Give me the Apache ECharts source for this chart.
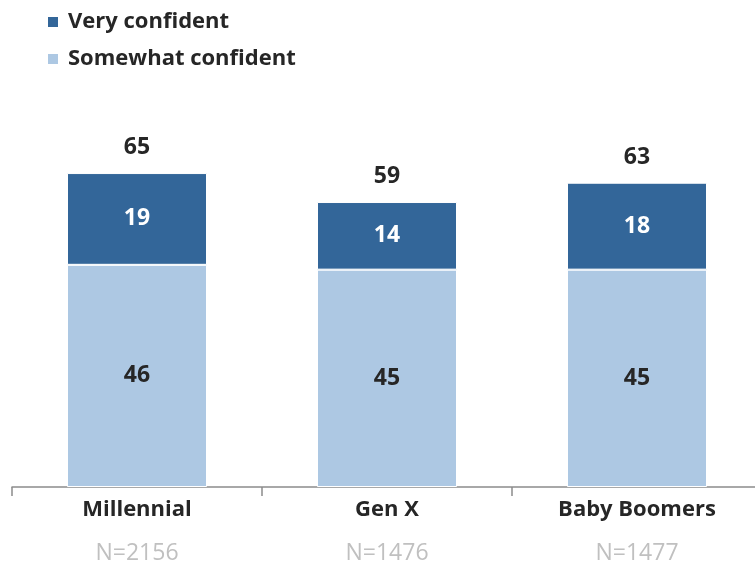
<!DOCTYPE html>
<html><head><meta charset="utf-8">
<script src="https://cdn.jsdelivr.net/npm/echarts@6/dist/echarts.min.js"></script>
<style>html,body{margin:0;padding:0;background:#fff}#c{width:755px;height:562px}</style>
</head><body><div id="c"></div>
<script>
const categories = ['Millennial', 'Gen X', 'Baby Boomers'];
const sampleSizes = ['N=2156', 'N=1476', 'N=1477'];
const somewhat = [46, 45, 45];
const very = [19, 14, 18];
const totals = [65, 59, 63];

const chart = echarts.init(document.getElementById('c'));
const font = 'Open Sans';
chart.setOption({
  animation: false,
  textStyle: { fontFamily: font },
  legend: {
    orient: 'vertical', left: 41, top: 6, itemWidth: 12, itemHeight: 12, itemGap: 15, icon: 'rect',
    data: ['Very confident', 'Somewhat confident'],
    textStyle: { fontFamily: font, fontSize: 22, fontWeight: 'bold', color: '#262626', padding: [0, 0, 0, 4] },
    selectedMode: false
  },
  grid: { left: 12, width: 750, top: 4, bottom: 75, outerBoundsMode: 'none' },
  xAxis: {
    type: 'category', data: categories.map((c, i) => c + '\n' + sampleSizes[i]),
    axisLine: { lineStyle: { color: '#8c8c8c', width: 1.5 } },
    axisTick: { show: true, length: 9, lineStyle: { color: '#8c8c8c', width: 1.5 } },
    axisLabel: {
      margin: 1, interval: 0,
      formatter: v => { const p = v.split('\n'); return '{a|' + p[0] + '}\n{b|' + p[1] + '}'; },
      rich: {
        a: { fontFamily: font, fontSize: 22, fontWeight: 'bold', color: '#262626', lineHeight: 44 },
        b: { fontFamily: font, fontSize: 23, color: '#c0c0c0', lineHeight: 42 }
      }
    }
  },
  yAxis: { type: 'value', min: 0, max: 100, show: false, splitLine: { show: false } },
  series: [
    {
      name: 'Somewhat confident', type: 'bar', stack: 's', data: somewhat, barWidth: 140,
      itemStyle: { color: '#adc8e3', borderColor: '#fff', borderWidth: 1 },
      label: { show: true, position: 'inside', fontFamily: font, fontSize: 23, fontWeight: 'bold', color: '#262626' }
    },
    {
      name: 'Very confident', type: 'bar', stack: 's', data: very, barWidth: 140,
      itemStyle: { color: '#336699', borderColor: '#fff', borderWidth: 1 },
      label: { show: true, position: 'inside', fontFamily: font, fontSize: 23, fontWeight: 'bold', color: '#ffffff' }
    },
    {
      name: 'Total', type: 'bar', stack: 's', data: totals.map(() => 0), barWidth: 140,
      itemStyle: { color: 'transparent' },
      label: { show: true, position: 'top', distance: 14, fontFamily: font, fontSize: 23, fontWeight: 'bold', color: '#262626',
        formatter: p => totals[p.dataIndex] }
    }
  ]
});
</script></body></html>
